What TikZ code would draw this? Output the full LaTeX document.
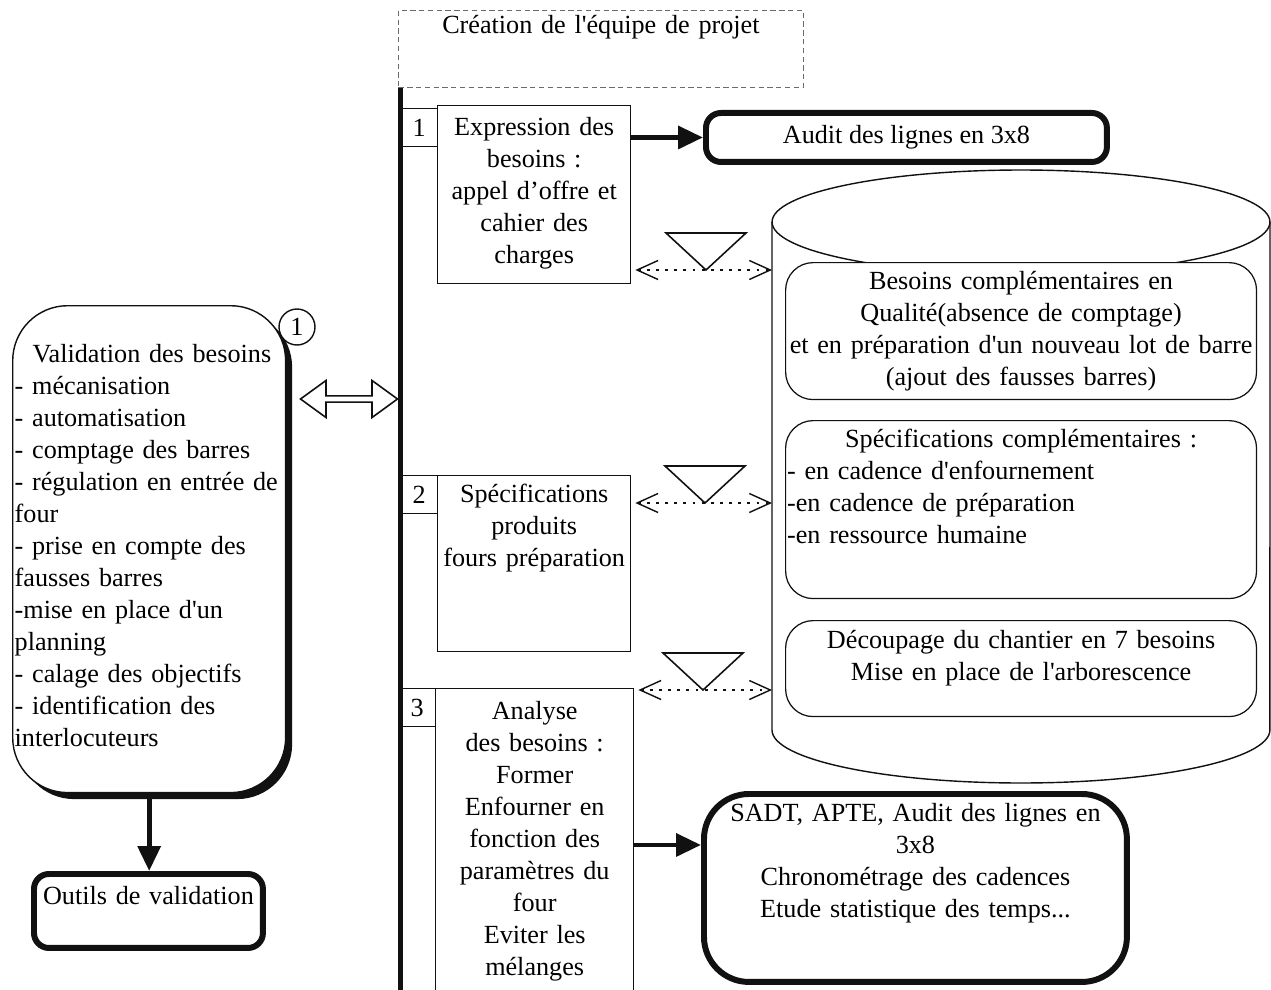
\documentclass[tikz,border=0pt]{standalone}
\usepackage{fontspec}
\setmainfont{Liberation Serif}
\usepackage{tikz}
\usetikzlibrary{shapes.geometric, shapes.arrows, arrows.meta, positioning, shadows}
\definecolor{frameInk}{HTML}{111111}
\definecolor{dashInk}{HTML}{6a6a6a}
\newcommand{\qs}{\textquotesingle}

\begin{document}
\begin{tikzpicture}[x=0.02cm, y=-0.02cm, font=\fontsize{14.9pt}{18.2pt}\selectfont,
        box/.style={draw=frameInk, line width=0.8pt, fill=white, anchor=north west, align=center, inner xsep=0pt, inner ysep=0pt},
        numbox/.style={draw=frameInk, line width=0.8pt, fill=white, anchor=north west, minimum width=0.74cm, minimum height=0.76cm, inner sep=0pt},
        heavy/.style={draw=frameInk, line width=3.4pt, rounded corners=0.3cm, fill=white, anchor=north west, align=center, inner sep=0pt},
        inbox/.style={draw=frameInk, line width=0.7pt, rounded corners=0.55cm, fill=white, anchor=north west, inner xsep=0.03cm, inner ysep=0pt, text width=9.36cm},
        drum/.style={draw=frameInk, line width=0.8pt},
        vee/.style={draw=frameInk, line width=0.9pt, line join=miter},
        thickarrow/.style={draw=frameInk, line width=2.8pt, -{Triangle[length=0.5cm, width=0.45cm]}},
        dotarrow/.style={draw=frameInk, line width=0.8pt, dash pattern=on 1.6pt off 3.6pt, {Straight Barb[length=0.42cm, width=0.38cm]}-{Straight Barb[length=0.42cm, width=0.38cm]}, shorten <=0.08cm}]
  \fill[white] (0,0) rectangle (1271,990);
  \useasboundingbox (0,0) rectangle (1271,990);

  % cylindre des besoins
  \coordinate (cylL) at (772,222);
  \draw[drum] (1021,222) ellipse [x radius=4.98cm, y radius=1.04cm];
  \draw[drum] (772,222) -- (772,730) arc[start angle=180, end angle=360, x radius=4.98cm, y radius=1.06cm] -- (1270,222);

  \node[inbox, align=center, text height=0.54cm, text depth=2.2cm] (needs) at (785,262) {Besoins complémentaires en\\Qualité(absence de comptage)\\et en préparation d\qs un nouveau lot de barre\\(ajout des fausses barres)};
  \node[inbox, align=left, text height=0.54cm, text depth=3.02cm] (specs) at (785,420) {\makebox[\linewidth]{Spécifications complémentaires :}\\- en cadence d\qs enfournement\\-en cadence de préparation\\-en ressource humaine};
  \node[inbox, align=center, text height=0.56cm, text depth=1.36cm] (split) at (785,620) {Découpage du chantier en 7 besoins\\Mise en place de l\qs arborescence};

  % etapes
  \node[box, draw=dashInk, densely dashed, line width=0.5pt, text width=8.1cm, text height=0.46cm, text depth=1.08cm] (team) at (398,10) {Création de l\qs équipe de projet};
  \node[box, text width=3.86cm, text height=0.6cm, text depth=2.96cm] (b1) at (437,105) {Expression des\\besoins :\\appel d’offre et\\cahier des\\charges};
  \node[numbox] (n1) at (400,108) {1};
  \node[box, text width=3.86cm, text height=0.54cm, text depth=2.98cm] (b2) at (437,475) {Spécifications\\produits\\fours préparation};
  \node[numbox] (n2) at (400,475) {2};
  \node[box, text width=3.96cm, text height=0.62cm, text depth=5.62cm] (b3) at (435,688) {Analyse\\des besoins :\\Former\\Enfourner en\\fonction des\\paramètres du\\four\\Eviter les\\mélanges};
  \node[numbox] (n3) at (398,688) {3};
  \draw[line width=0.1cm, frameInk] ([xshift=0.04cm]team.south west) -- ++(0,915);

  % entonnoirs
  \coordinate (t1) at (706,270);
  \coordinate (t2) at (705,503);
  \coordinate (t3) at (703,690);
  \draw[vee] (t1) -- ++(-40,-37) -- ++(80,0) -- cycle;
  \draw[vee] (t2) -- ++(-40,-37) -- ++(80,0) -- cycle;
  \draw[vee] (t3) -- ++(-40,-37) -- ++(80,0) -- cycle;
  \draw[dotarrow] (b1.east |- t1) -- (cylL |- t1);
  \draw[dotarrow] (b2.east |- t2) -- (cylL |- t2);
  \draw[dotarrow] (b3.east |- t3) -- (cylL |- t3);

  % resultats
  \node[heavy, minimum width=8.02cm, minimum height=0.98cm] (audit) at (703,110) {Audit des lignes en 3x8};
  \node[heavy, rounded corners=0.9cm, text width=8.46cm, text height=0.56cm, text depth=3.2cm] (sadt) at (701,791) {SADT, APTE, Audit des lignes en\\3x8\\Chronométrage des cadences\\Etude statistique des temps...};
  \coordinate (sadtIn) at ([yshift=0.86cm]sadt.west);
  \draw[thickarrow] (b1.east |- audit.west) -- (audit.west);
  \draw[thickarrow] (sadtIn -| b3.east) -- (sadtIn);

  % validation
  \node[box, align=left, rounded corners=1.1cm, text width=5.38cm, inner xsep=0.04cm, text height=1.14cm, text depth=8.6cm,
    drop shadow={shadow xshift=0.13cm, shadow yshift=-0.13cm, fill=frameInk, opacity=1}] (valid) at (12,305)
    {\hspace*{0.36cm}Validation des besoins\\- mécanisation\\- automatisation\\- comptage des barres\\- régulation en entrée de\\four\\- prise en compte des\\fausses barres\\-mise en place d\qs un\\planning\\- calage des objectifs\\- identification des\\interlocuteurs};
  \node[draw=frameInk, line width=0.8pt, fill=white, circle, minimum size=0.72cm, inner sep=0pt] (badge) at (297,327) {1};
  \node[double arrow, draw=frameInk, line width=0.9pt, fill=white, minimum height=1.94cm, minimum width=0.74cm, double arrow head extend=0.08cm, double arrow tip angle=72, inner sep=0pt] (link) at (349,399) {};
  \node[heavy, text width=4.58cm, text height=0.62cm, text depth=0.86cm] (tools) at (31,871) {Outils de validation};
  \draw[thickarrow] (valid.south) -- (valid.south |- tools.north);
\end{tikzpicture}
\end{document}
